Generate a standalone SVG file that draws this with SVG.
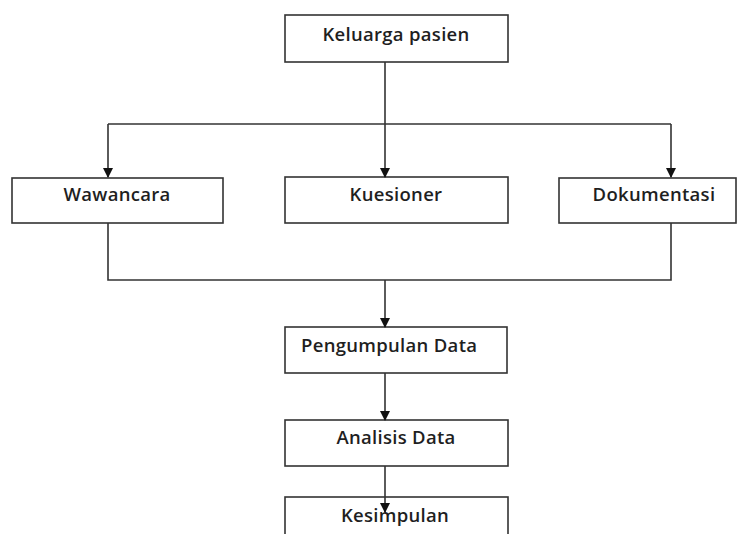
<svg xmlns="http://www.w3.org/2000/svg" width="737" height="534" viewBox="0 0 737 534">
<defs>
<style>
.box{fill:#fff;stroke:#333;stroke-width:1.6}
.t{font-family:"Open Sans","Liberation Sans",sans-serif;font-size:18.5px;font-weight:600;letter-spacing:0.3px;fill:#1f1f1f;text-anchor:middle}
.ln{fill:none;stroke:#333;stroke-width:1.6}
</style>
<marker id="ah" markerWidth="10" markerHeight="10" refX="9" refY="5" orient="auto" markerUnits="userSpaceOnUse">
<path d="M0,0 L10,5 L0,10 Z" fill="#111"/>
</marker>
</defs>
<rect width="737" height="534" fill="#fff"/>
<g id="keluarga">
<rect class="box" x="285" y="15" width="223" height="47"/>
<text class="t" x="396" y="41">Keluarga pasien</text>
</g>
<g id="wawancara">
<rect class="box" x="12" y="178" width="211" height="45"/>
<text class="t" x="117" y="201">Wawancara</text>
</g>
<g id="kuesioner">
<rect class="box" x="285" y="177" width="223" height="46"/>
<text class="t" x="396" y="201">Kuesioner</text>
</g>
<g id="dokumentasi">
<rect class="box" x="559" y="178" width="177" height="45"/>
<text class="t" x="654" y="201">Dokumentasi</text>
</g>
<g id="pengumpulan">
<rect class="box" x="285" y="327" width="222" height="46"/>
<text class="t" x="301" y="352" style="text-anchor:start">Pengumpulan Data</text>
</g>
<g id="analisis">
<rect class="box" x="285" y="420" width="223" height="46"/>
<text class="t" x="396" y="444">Analisis Data</text>
</g>
<g id="kesimpulan">
<rect class="box" x="285" y="497" width="223" height="45"/>
<text class="t" x="395" y="522">Kesimpulan</text>
</g>
<g id="connectors">
<path class="ln" d="M385,62 V124"/>
<path class="ln" d="M108,124 H671"/>
<path class="ln" d="M108,124 V177" marker-end="url(#ah)"/>
<path class="ln" d="M385,124 V177" marker-end="url(#ah)"/>
<path class="ln" d="M671,124 V177" marker-end="url(#ah)"/>
<path class="ln" d="M108,223 V280 H671 V223"/>
<path class="ln" d="M385,280 V327" marker-end="url(#ah)"/>
<path class="ln" d="M385,373 V420" marker-end="url(#ah)"/>
<path class="ln" d="M385,466 V512" marker-end="url(#ah)"/>
</g>
</svg>
